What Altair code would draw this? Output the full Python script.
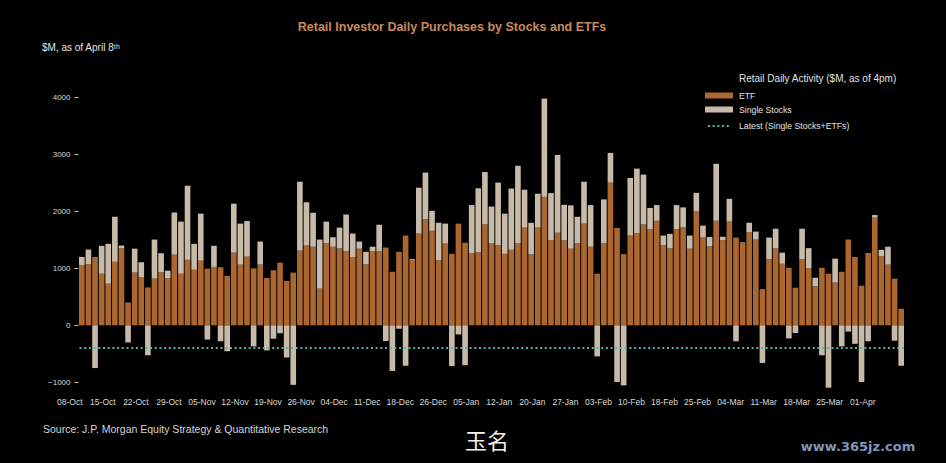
import altair as alt
import pandas as pd
import altair.utils.html as _h

# ---------------- data ----------------
ETF = [1050, 1070, 1200, 905, 730, 1115, 1350, 400, 925, 840,
       665, 820, 930, 825, 1240, 905, 1150, 975, 1135, 995,
       1025, 1020, 870, 1275, 1065, 1205, 1000, 1065, 830, 965,
       1100, 780, 925, 1310, 1400, 1380, 645, 1440, 1380, 1350,
       1305, 1195, 1345, 1070, 1300, 1305, 1365, 940, 1290, 1575,
       1150, 1610, 1860, 1660, 1140, 1435, 1255, 1785, 1450, 1265,
       1280, 1770, 1435, 1405, 1255, 1325, 1445, 1715, 1245, 1715,
       2255, 1495, 1625, 1490, 1345, 1445, 1785, 1380, 905, 1440,
       2505, 1710, 1250, 1575, 1615, 1770, 1685, 1835, 1405, 1350,
       1685, 1720, 1345, 2000, 1540, 1385, 1835, 1495, 1820, 1540,
       1445, 1635, 1505, 635, 1160, 1350, 1080, 1010, 660, 1160,
       1005, 685, 1010, 905, 750, 940, 1505, 1200, 695, 1270,
       1890, 1215, 1065, 820, 290]

SINGLE = [150, 260, -750, 490, 700, 790, 50, -300, 420, 265,
          -525, 685, 335, 135, 740, 915, 1300, 455, 825, -250,
          370, -280, -455, 860, 720, 625, -370, 405, -440, -235,
          -140, -565, -1045, 1210, 760, 595, 860, 380, 165, 365,
          640, 415, 125, 220, 80, 460, -275, -800, -60, -710,
          15, 805, 820, 350, 660, 350, -715, -160, -700, 845,
          1125, 920, 650, 1100, 705, 1075, 1355, 665, 555, 595,
          1725, 825, 1365, 625, 760, 460, 735, 730, -545, 770,
          520, -995, -1055, 1010, 1135, 875, 375, 275, 170, 255,
          425, 350, 230, 325, 210, 165, 1000, 60, 400, -280,
          10, 165, 140, -660, 380, 345, 195, -230, -135, 535,
          350, 150, -525, -1095, 420, -370, -110, -325, -995, -280,
          45, 110, 315, -270, -710]

LATEST = -400  # dotted line level

# trading days 08-Oct-2025 .. 08-Apr-2026 (US market holidays removed)
HOLIDAYS = ["2025-11-27", "2025-12-25", "2026-01-01",
            "2026-01-19", "2026-02-16", "2026-04-03"]
DAYS = pd.bdate_range("2025-10-08", "2026-04-08", freq="C", holidays=HOLIDAYS)
DAY_LABELS = [d.strftime("%d-%b") for d in DAYS]

TICK_LABELS = ["08-Oct", "15-Oct", "22-Oct", "29-Oct", "05-Nov", "12-Nov",
               "19-Nov", "26-Nov", "04-Dec", "11-Dec", "18-Dec", "26-Dec",
               "05-Jan", "12-Jan", "20-Jan", "27-Jan", "03-Feb", "10-Feb",
               "18-Feb", "25-Feb", "04-Mar", "11-Mar", "18-Mar", "25-Mar",
               "01-Apr"]
Y_TICKS = [-1000, 0, 1000, 2000, 3000, 4000]

SERIES = ["ETF", "Single Stocks"]

# ---------------- styling ----------------
ETF_C = "#ab672f"
SS_C = "#c7baa8"
TEAL = "#4fb5aa"
FONT = "Liberation Sans, Arial, sans-serif"

rows = []
for i, day in enumerate(DAY_LABELS):
    rows.append({"day": day, "series": "ETF", "value": ETF[i], "ord": 0})
    rows.append({"day": day, "series": "Single Stocks", "value": SINGLE[i], "ord": 1})
df = pd.DataFrame(rows)

bars = alt.Chart(df).mark_bar().encode(
    x=alt.X("day:N", sort=DAY_LABELS,
            scale=alt.Scale(paddingInner=0.15, paddingOuter=0),
            axis=alt.Axis(values=TICK_LABELS, title=None, labelAngle=0,
                          ticks=False, domain=False, labelOffset=-12,
                          labelPadding=9, labelColor="#d9d9d9",
                          labelFontSize=8.5, labelFont=FONT,
                          labelOverlap=False)),
    y=alt.Y("value:Q", stack="zero",
            scale=alt.Scale(domain=[-1100, 4200], nice=False, zero=False),
            axis=alt.Axis(values=Y_TICKS, title=None, grid=False,
                          domain=False, tickSize=4, tickColor="#bdbdbd",
                          labelPadding=4, offset=1, format="d",
                          labelColor="#d9d9d9", labelFontSize=8,
                          labelFont=FONT)),
    color=alt.Color("series:N",
                    scale=alt.Scale(domain=SERIES, range=[ETF_C, SS_C]),
                    legend=None),
    order=alt.Order("ord:Q"),
)

latest = alt.Chart(pd.DataFrame({"latest": [LATEST]})).mark_rule(
    color=TEAL, strokeWidth=2, strokeDash=[2, 2.7]
).encode(y="latest:Q")


def label(text, x, y, size, color, weight="normal", align="left", font=FONT):
    return alt.Chart(pd.DataFrame({"t": [text]})).mark_text(
        align=align, baseline="middle", fontSize=size, color=color,
        fontWeight=weight, font=font
    ).encode(x=alt.value(x), y=alt.value(y), text="t:N")


def swatch(color, x, x2, y, y2):
    return alt.Chart(pd.DataFrame({"s": [color]})).mark_rect(color=color).encode(
        x=alt.value(x), x2=alt.value(x2), y=alt.value(y), y2=alt.value(y2))


legend_line = alt.Chart(pd.DataFrame({"s": ["latest"]})).mark_rule(
    color=TEAL, strokeWidth=2, strokeDash=[2, 2.7]
).encode(x=alt.value(629), x2=alt.value(652), y=alt.value(40))

texts = [
    label("Retail Investor Daily Purchases by Stocks and ETFs", 373, -59, 12.5,
          "#c68a5e", weight="bold", align="center"),
    label("$M, as of April 8ᵗʰ", -37, -38, 10, "#e6e6e6"),
    label("Retail Daily Activity ($M, as of 4pm)", 660, -7, 10, "#e0e0e0"),
    label("ETF", 660, 9.5, 8.7, "#e0e0e0"),
    label("Single Stocks", 660, 23.5, 8.7, "#e0e0e0"),
    label("Latest (Single Stocks+ETFs)", 660, 40, 8.7, "#e0e0e0"),
    label("Source: J.P. Morgan Equity Strategy & Quantitative Research", -36, 344,
          10.5, "#d4d4d4"),
    label("玉名", 386, 356, 22, "#f2f2f2", font="Noto Sans CJK SC"),
    label("www.365jz.com", 779, 361, 13, "#8094bb", weight="bold",
          align="center", font="DejaVu Sans"),
]

chart = alt.layer(
    bars, latest,
    swatch(ETF_C, 626, 654, 6.5, 12.5),
    swatch(SS_C, 626, 654, 20.5, 26.5),
    legend_line,
    *texts,
).properties(
    width=825, height=302,
    padding={"left": 71, "top": 78, "right": 34, "bottom": 67},
    autosize=alt.AutoSizeParams(type="none"),
).configure(
    background="#000000"
).configure_view(stroke=None)


# black page behind the chart (body margin)
_orig_tpl = _h.TEMPLATES["standard"]


class _BlackPage:
    def render(self, **kw):
        return _orig_tpl.render(**kw).replace(
            "<head>", "<head>\n<style>html,body{background:#000000;}</style>", 1)


_h.TEMPLATES["standard"] = _BlackPage()

chart.save("out.html", embed_options={"renderer": "svg", "actions": False})
